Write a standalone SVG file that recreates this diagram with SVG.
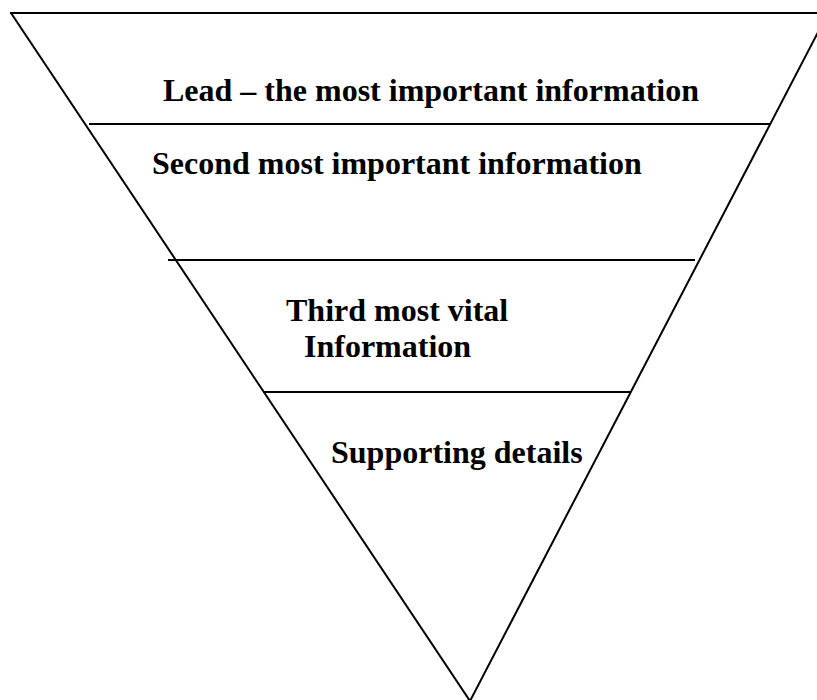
<svg xmlns="http://www.w3.org/2000/svg" width="817" height="700" viewBox="0 0 817 700">
<style>
.ln{stroke:#000;stroke-width:2;fill:none}
.t{font-family:"Liberation Serif","Times New Roman",serif;font-weight:bold;font-size:32px;fill:#000}
</style>
<rect width="817" height="700" fill="#fff"/>
<g id="connectors">
<line class="ln" x1="10" y1="13" x2="817" y2="13"/>
<line class="ln" x1="11" y1="13" x2="470" y2="701"/>
<line class="ln" x1="470" y1="701" x2="828" y2="13"/>
<line class="ln" x1="89" y1="124" x2="770" y2="124"/>
<line class="ln" x1="168" y1="260" x2="695" y2="260"/>
<line class="ln" x1="263" y1="392" x2="630" y2="392"/>
</g>
<g id="lead"><text class="t" x="163" y="101">Lead – the most important information</text></g>
<g id="second"><text class="t" x="152" y="174">Second most important information</text></g>
<g id="third"><text class="t" x="286" y="321">Third most vital</text><text class="t" x="304" y="357">Information</text></g>
<g id="supporting"><text class="t" x="331" y="463">Supporting details</text></g>
</svg>
